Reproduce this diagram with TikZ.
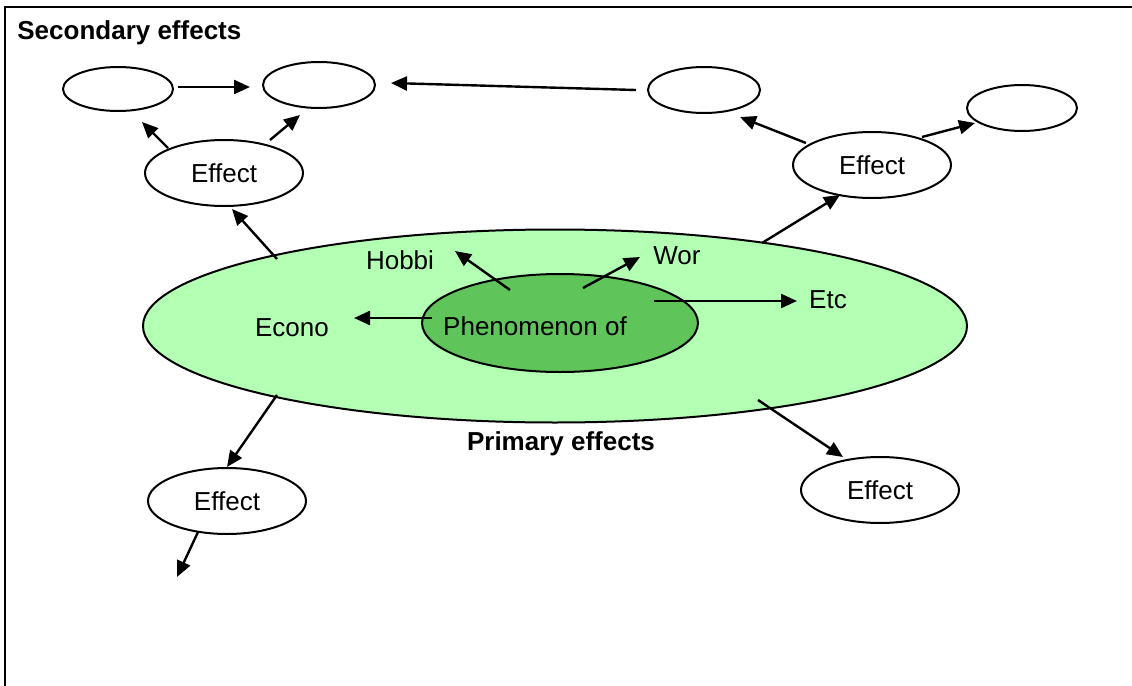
\documentclass[tikz,border=0pt]{standalone}
\usepackage{fontspec}
\setmainfont{Liberation Sans}
\usepackage{tikz}
\usetikzlibrary{arrows.meta, shapes.geometric}

\definecolor{paleleaf}{RGB}{179,255,179}
\definecolor{deepleaf}{RGB}{95,196,90}

\tikzset{
  bubble/.style={draw, ellipse, line width=1pt, inner sep=0pt},
  effect/.style={bubble, fill=white, minimum width=79pt, minimum height=33pt, font=\fontsize{13}{15}\selectfont},
  blank/.style={bubble, fill=white, minimum width=55pt, minimum height=22pt},
  arr/.style={-{Triangle[length=8pt,width=7pt]}, line width=1.2pt},
  lbl/.style={font=\fontsize{13}{15}\selectfont, anchor=base, inner sep=0pt},
  head/.style={font=\bfseries\fontsize{13}{15}\selectfont, anchor=base, inner sep=0pt}
}

\begin{document}
\begin{tikzpicture}[x=0.5pt,y=-0.5pt]
\useasboundingbox (0,0) rectangle (1132,686);
% we draw the frame, only its top and left side show
\draw[line width=1.1pt] (5,686) -- (5,7) -- (1132,7);
\node[head, anchor=base west] (secondary) at (17,39) {Secondary effects};
% the primary effects and the phenomenon in the middle
\node[bubble, fill=paleleaf, minimum width=412pt, minimum height=96.5pt] (primary) at (555,326) {};
\node[bubble, fill=deepleaf, minimum width=138pt, minimum height=49pt] (core) at (560,323) {};
\node[lbl] (phen) at (535,335) {Phenomenon of};
\node[lbl] (hobbi) at (400,269) {Hobbi};
\node[lbl] (wor) at (677,264) {Wor};
\node[lbl] (econo) at (292,336) {Econo};
\node[lbl] (etc) at (828,308) {Etc};
\node[head] (primlabel) at (561,450) {Primary effects};
% we draw the effects
\node[effect, text depth=0pt] (ef1) at (224,173) {Effect};
\node[effect, text depth=0pt] (ef2) at (872,165) {Effect};
\node[effect, text depth=0pt] (ef3) at (227,501) {Effect};
\node[effect, text depth=0pt] (ef4) at (880,490) {Effect};
% the empty bubbles on top
\node[blank] (sa) at (118,89) {};
\node[blank, minimum width=56pt, minimum height=23pt] (sb) at (319,85) {};
\node[blank, minimum width=56pt, minimum height=23pt] (sc) at (704,90) {};
\node[blank, minimum height=23pt] (sd) at (1022,108) {};
% the ends of the arrows
\foreach \n/\x/\y in {t1/178/87, h1/250/87, t2/636/90, h2/391/83,
  t3/168/148, h3/142/122, t4/270/140, h4/300/115,
  t5/806/143, h5/740/117, t6/922/137, h6/975/123,
  t7/762/243, h7/840/195, t8/277/259, h8/232/209,
  t9/277/395, h9/227/467, t10/198/532, h10/177/577,
  t11/758/400, h11/843/457, t12/510/290, h12/455/251,
  t13/583/288, h13/640/257, t14/432/318, h14/354/318,
  t15/654/301, h15/797/301}
  \coordinate (\n) at (\x,\y);
% we draw the arrows
\foreach \i in {1,...,15}
  \draw[arr] (t\i) -- (h\i);
%
\end{tikzpicture}
\end{document}
